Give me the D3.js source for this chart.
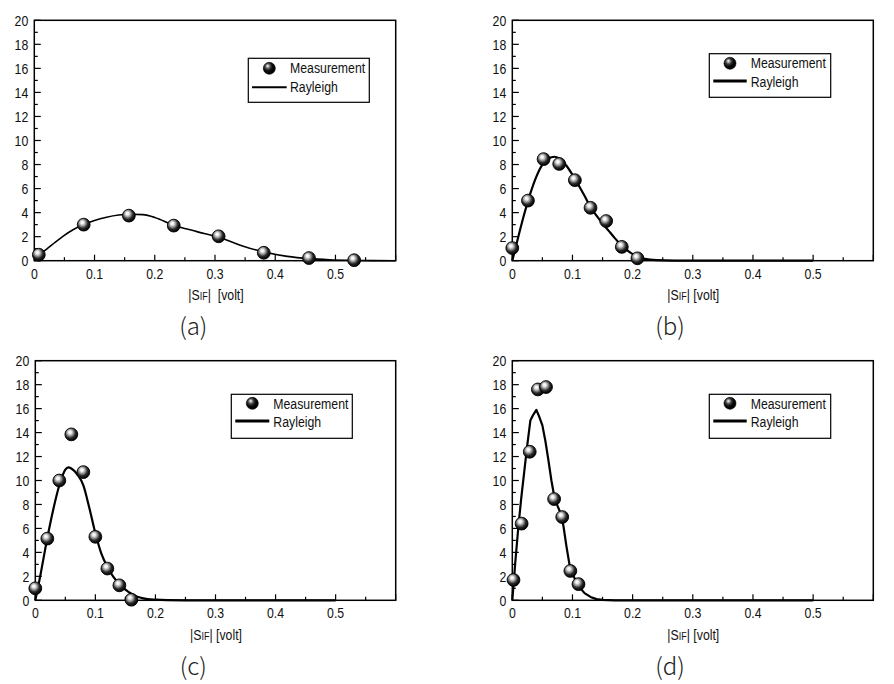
<!DOCTYPE html>
<html><head><meta charset="utf-8">
<script src="https://cdn.jsdelivr.net/npm/d3@7"></script>
<style>
body{margin:0;background:#fff;}
svg{display:block;}
text{font-family:"Liberation Sans",Arial,sans-serif;fill:#111;}
.cap{font-family:"Noto Sans CJK KR","Noto Sans",sans-serif;font-weight:300;fill:#222;}
</style></head>
<body>
<script>
// ---- data ----
const yTicks = [0,2,4,6,8,10,12,14,16,18,20];
const xTicks = [0,0.1,0.2,0.3,0.4,0.5];
const xTickLabels = ["0","0.1","0.2","0.3","0.4","0.5"];
const legendLabels = ["Measurement","Rayleigh"];
const panelLabels = ["(a)","(b)","(c)","(d)"];

const measXA = [0.0075,0.082,0.157,0.2315,0.306,0.381,0.456,0.531];
const measYA = [0.5,3.0,3.75,2.92,2.03,0.66,0.22,0.04];
const curveXA = [0.008,0.02,0.035,0.048,0.065,0.083,0.1,0.12,0.14,0.16,0.18,0.2,0.23,0.27,0.306,0.347,0.382,0.42,0.456,0.49,0.53,0.56,0.6];
const curveYA = [0.5,0.95,1.55,2.05,2.6,3.03,3.35,3.62,3.8,3.87,3.83,3.6,2.98,2.42,1.95,1.2,0.72,0.36,0.17,0.08,0.03,0.01,0.0];

const measXB = [0,0.026,0.052,0.078,0.104,0.13,0.156,0.182,0.208];
const measYB = [1.05,5.0,8.45,8.05,6.7,4.4,3.3,1.15,0.2];
const curveXB = [0,0.01,0.02,0.03,0.04,0.05,0.06,0.07,0.08,0.09,0.1,0.11,0.12,0.13,0.14,0.15,0.16,0.17,0.18,0.19,0.2,0.21,0.22,0.24,0.27,0.3,0.5];
const curveYB = [0,2.0,3.9,5.6,7.0,8.0,8.5,8.65,8.45,7.9,7.15,6.3,5.4,4.45,3.75,3.1,2.5,1.9,1.35,0.9,0.55,0.3,0.15,0.04,0.005,0,0];

const measXC = [0,0.02,0.04,0.06,0.08,0.1,0.12,0.14,0.16];
const measYC = [1.0,5.15,10.0,13.85,10.7,5.3,2.65,1.25,0.05];
const curveXC = [0,0.005,0.01,0.02,0.03,0.04,0.05,0.055,0.06,0.07,0.08,0.09,0.1,0.11,0.12,0.13,0.14,0.15,0.16,0.17,0.18,0.2,0.22,0.25,0.5];
const curveYC = [0,1.2,2.5,5.2,7.6,9.6,10.9,11.1,11.0,10.5,9.6,7.7,5.6,3.9,2.8,1.95,1.35,0.9,0.55,0.3,0.16,0.05,0.01,0,0];

const measXD = [0.002,0.0155,0.029,0.0425,0.056,0.0695,0.083,0.0965,0.11];
const measYD = [1.7,6.4,12.4,17.6,17.8,8.45,6.95,2.45,1.35];
const curveXD = [0,0.005,0.01,0.015,0.02,0.025,0.03,0.035,0.04,0.045,0.05,0.055,0.06,0.065,0.07,0.075,0.08,0.085,0.09,0.095,0.1,0.105,0.11,0.115,0.12,0.13,0.14,0.15,0.17,0.5];
const curveYD = [0,3.2,6.1,8.6,10.8,13.0,15.0,15.5,15.9,15.3,14.6,13.3,11.7,10.0,8.6,7.9,7.3,6.2,4.5,3.0,2.2,1.7,1.25,0.9,0.6,0.28,0.1,0.03,0,0];

// ---- layout ----
const W = 894, H = 684, NARROW = 0.82;
const panels = [
  {mx:measXA,my:measYA,cx:curveXA,cy:curveYA,left:34.3,top:20.3,w:361.4,h:240.4,lw:1.6,legLw:2,curve:d3.curveMonotoneX,
   leg:{bx:214,by:38,bw:121,bh:44,sx:235,sy:48,tx:255.7,t1:52.7,t2:71.4,l1:217.7,l2:252.4,ly:67},
   xl:"|S", xl2:"|  [volt]", xlx:216, xly:300, cap:193.3, capy:335},
  {mx:measXB,my:measYB,cx:curveXB,cy:curveYB,left:512.3,top:20.3,w:361,h:240.4,lw:2.2,legLw:3.2,curve:d3.curveMonotoneX,
   leg:{bx:197,by:33.4,bw:121.4,bh:43.6,sx:217.7,sy:43,tx:238.4,t1:48,t2:66.4,l1:201,l2:234.4,ly:60.7},
   xl:"|S", xl2:"| [volt]", xlx:693.3, xly:300, cap:670, capy:335},
  {mx:measXC,my:measYC,cx:curveXC,cy:curveYC,left:35.3,top:360.7,w:360.4,h:239.6,lw:2.2,legLw:3.2,curve:d3.curveMonotoneX,
   leg:{bx:196,by:33.6,bw:121,bh:44,sx:217,sy:42.6,tx:238,t1:48.6,t2:66.6,l1:200,l2:234,ly:60.3},
   xl:"|S", xl2:"| [volt]", xlx:216, xly:640, cap:193.3, capy:675},
  {mx:measXD,my:measYD,cx:curveXD,cy:curveYD,left:512.3,top:360.7,w:361,h:239.6,lw:2.2,legLw:3.2,curve:d3.curveLinear,
   leg:{bx:197,by:33.6,bw:121.4,bh:44,sx:217.7,sy:42.6,tx:238.4,t1:48.6,t2:66.6,l1:201,l2:234.4,ly:60.3},
   xl:"|S", xl2:"| [volt]", xlx:693.3, xly:640, cap:670, capy:675}
];

const svg = d3.select("body").append("svg").attr("width",W).attr("height",H);
const defs = svg.append("defs");
const g1 = defs.append("radialGradient").attr("id","sph").attr("cx","42%").attr("cy","40%").attr("r","60%").attr("fx","38%").attr("fy","32%");
[[0,"#ffffff"],[0.18,"#f2f2f2"],[0.42,"#9a9a9a"],[0.68,"#2a2a2a"],[1,"#000000"]].forEach(s=>g1.append("stop").attr("offset",s[0]).attr("stop-color",s[1]));
const g2 = defs.append("radialGradient").attr("id","sph2").attr("cx","40%").attr("cy","38%").attr("r","60%").attr("fx","36%").attr("fy","30%");
[[0,"#ffffff"],[0.14,"#bbbbbb"],[0.38,"#444444"],[0.65,"#0a0a0a"],[1,"#000000"]].forEach(s=>g2.append("stop").attr("offset",s[0]).attr("stop-color",s[1]));

// narrow text helper
function ntext(sel, x, y, size, anchor){
  return sel.append("text").attr("transform",`translate(${x},${y}) scale(${NARROW},1)`)
    .attr("font-size",size).attr("text-anchor",anchor||"start");
}

panels.forEach((p,i)=>{
  const g = svg.append("g").attr("transform",`translate(${p.left},${p.top})`);
  const x = d3.scaleLinear().domain([0,0.6]).range([0,p.w]);
  const y = d3.scaleLinear().domain([0,20]).range([p.h,0]);

  // curve
  const pts = p.cx.map((v,k)=>[v,p.cy[k]]);
  g.append("path").datum(pts)
    .attr("d",d3.line().x(d=>x(d[0])).y(d=>y(d[1])).curve(p.curve))
    .attr("fill","none").attr("stroke","#000").attr("stroke-width",p.lw).attr("stroke-linejoin","round");

  // frame
  g.append("rect").attr("x",0).attr("y",0).attr("width",p.w).attr("height",p.h)
    .attr("fill","none").attr("stroke","#000").attr("stroke-width",1.5);

  // y axis ticks (inside)
  const yMinor = d3.range(1,20,2);
  g.selectAll(".ymaj").data(yTicks).enter().append("line")
    .attr("x1",0).attr("x2",6.5).attr("y1",d=>y(d)).attr("y2",d=>y(d)).attr("stroke","#000").attr("stroke-width",1.2);
  g.selectAll(".ymin").data(yMinor).enter().append("line")
    .attr("x1",0).attr("x2",3.5).attr("y1",d=>y(d)).attr("y2",d=>y(d)).attr("stroke","#000").attr("stroke-width",1.2);
  yTicks.forEach(d=>{
    ntext(g, -6, y(d)+5.3, 15, "end").text(d);
  });

  // x axis ticks (inside)
  const xMinor = d3.range(0.05,0.6,0.1);
  g.selectAll(".xmaj").data(xTicks.concat([0.6])).enter().append("line")
    .attr("x1",d=>x(d)).attr("x2",d=>x(d)).attr("y1",p.h).attr("y2",p.h-6).attr("stroke","#000").attr("stroke-width",1.2);
  g.selectAll(".xmin").data(xMinor).enter().append("line")
    .attr("x1",d=>x(d)).attr("x2",d=>x(d)).attr("y1",p.h).attr("y2",p.h-3.5).attr("stroke","#000").attr("stroke-width",1.2);
  xTicks.forEach((d,k)=>{
    ntext(g, x(d), p.h+18, 15, "middle").text(xTickLabels[k]);
  });

  // markers
  g.selectAll(".pt").data(p.mx.map((v,k)=>[v,p.my[k]])).enter().append("circle")
    .attr("cx",d=>x(d[0])).attr("cy",d=>y(d[1])).attr("r",6.4)
    .attr("fill","url(#sph)").attr("stroke","#000").attr("stroke-width",0.9);

  // legend
  const L = p.leg;
  g.append("rect").attr("x",L.bx).attr("y",L.by).attr("width",L.bw).attr("height",L.bh)
    .attr("fill","#fff").attr("stroke","#000").attr("stroke-width",1.2);
  g.append("circle").attr("cx",L.sx).attr("cy",L.sy).attr("r",6)
    .attr("fill","url(#sph2)").attr("stroke","#000").attr("stroke-width",0.6);
  g.append("line").attr("x1",L.l1).attr("x2",L.l2).attr("y1",L.ly).attr("y2",L.ly)
    .attr("stroke","#000").attr("stroke-width",p.legLw);
  ntext(g, L.tx, L.t1, 15).text(legendLabels[0]);
  ntext(g, L.tx, L.t2, 15).text(legendLabels[1]);

  // x axis label
  const t = ntext(svg, p.xlx, p.xly, 15, "middle").attr("xml:space","preserve").style("white-space","pre");
  t.append("tspan").text(p.xl);
  t.append("tspan").attr("font-size",11).text("IF");
  t.append("tspan").text(p.xl2);

  // panel caption
  svg.append("text").attr("class","cap").attr("x",p.cap).attr("y",p.capy)
    .attr("text-anchor","middle").attr("font-size",24).text(panelLabels[i]);
});
</script>
</body></html>
